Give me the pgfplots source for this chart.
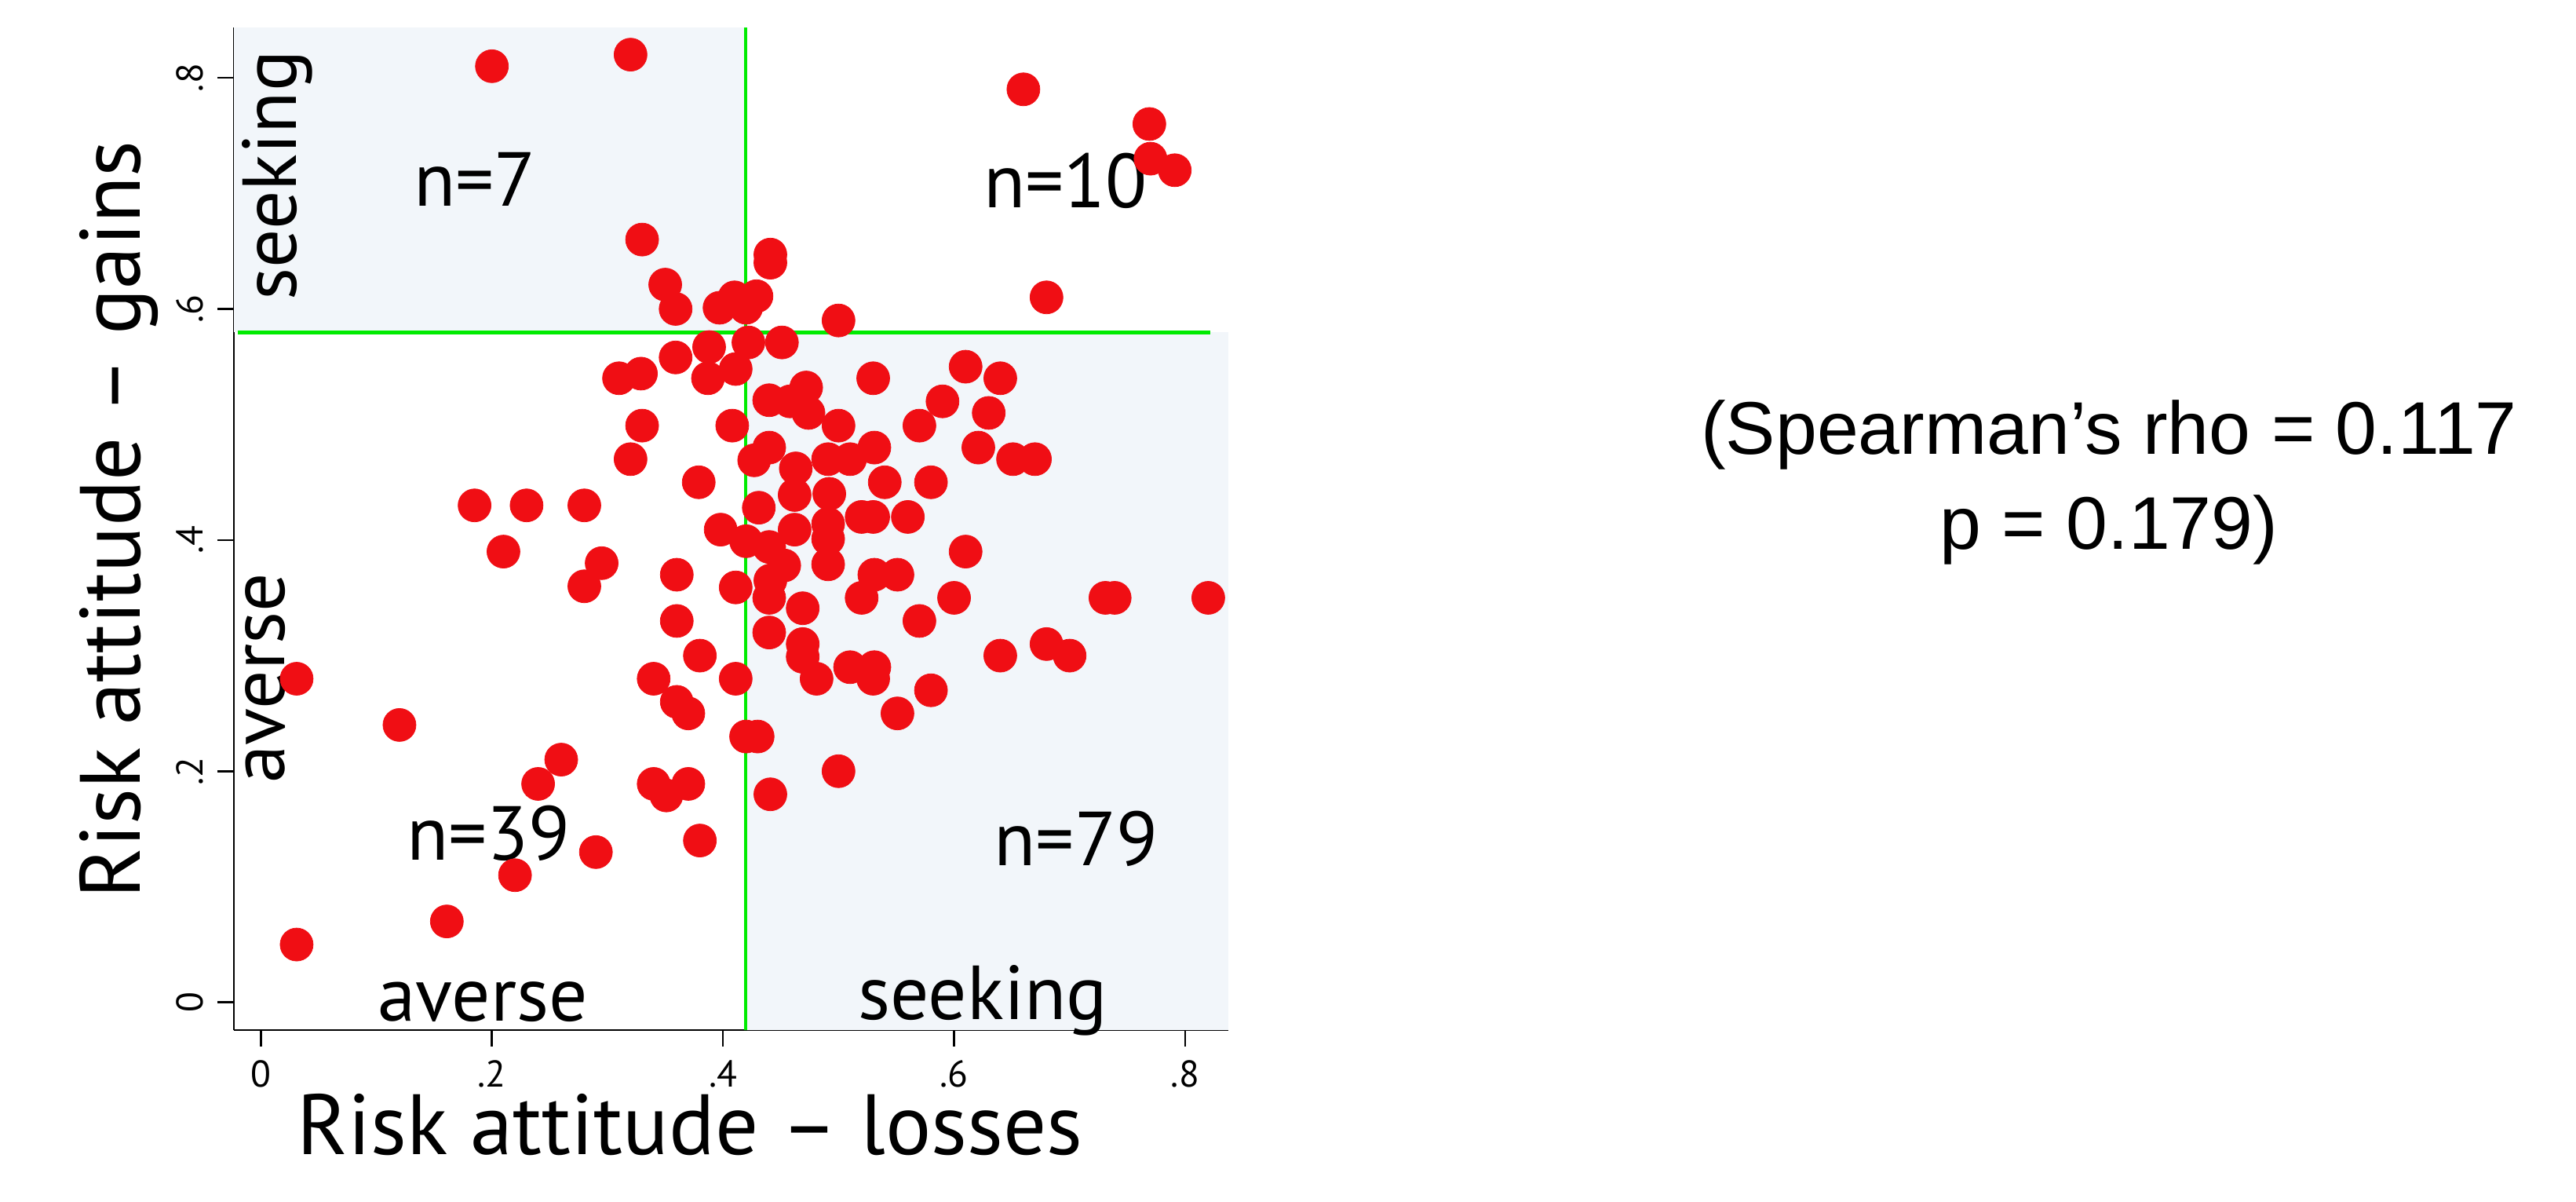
\documentclass[border=0pt]{standalone}
\usepackage{pgfplots}
\pgfplotsset{compat=1.18}
\usepackage{fontspec}
\setmainfont{PT Sans}
\newfontfamily\arialfont{Liberation Sans}
\definecolor{dotred}{RGB}{240,14,20}
\definecolor{shade}{RGB}{242,246,250}
\definecolor{lgreen}{RGB}{0,235,0}
\begin{document}
\begin{tikzpicture}
\path[use as bounding box] (0,0) rectangle (656.4pt,306pt);
\begin{axis}[
  at={(59.6pt,43.6pt)}, anchor=south west,
  scale only axis, width=253.4pt, height=255.4pt,
  xmin=-0.0233, xmax=0.8374, ymin=-0.0240, ymax=0.8435,
  axis x line*=bottom, axis y line*=left,
  axis line style={-, line width=0.5pt, black},
  tick align=outside, major tick length=4.2pt,
  tick style={line width=0.5pt, black},
  xtick={0,0.2,0.4,0.6,0.8}, xticklabels={0,.2,.4,.6,.8},
  ytick={0,0.2,0.4,0.6,0.8}, yticklabels={0,.2,.4,.6,.8},
  ticklabel style={font=\fontsize{9.5}{11}\selectfont},
  yticklabel style={rotate=90, anchor=south},
  xlabel={Risk attitude – losses},
  ylabel={Risk attitude – gains},
  label style={font=\fontsize{21.8}{26}\selectfont},
  xlabel style={at={(axis description cs:0.4586,-0.1245)}, anchor=base},
  ylabel style={at={(axis description cs:-0.0947,0.509)}, anchor=base, rotate=0},
  clip=false,
]
\addplot[fill=shade, draw=none, forget plot] coordinates {(-0.0233,0.5797) (0.4196,0.5797) (0.4196,0.8435) (-0.0233,0.8435)} -- cycle;
\addplot[fill=shade, draw=none, forget plot] coordinates {(0.4196,-0.0240) (0.8374,-0.0240) (0.8374,0.5797) (0.4196,0.5797)} -- cycle;
\addplot[only marks, mark=*, color=dotred, mark size=4.2pt, mark options={draw=dotred, fill=dotred, line width=0.15pt}] table {
x y
0.200 0.810
0.320 0.820
0.330 0.660
0.350 0.621
0.359 0.600
0.397 0.601
0.410 0.610
0.429 0.611
0.420 0.601
0.441 0.647
0.441 0.640
0.500 0.590
0.660 0.790
0.769 0.760
0.770 0.730
0.791 0.720
0.680 0.610
0.451 0.571
0.422 0.571
0.388 0.567
0.359 0.558
0.310 0.540
0.329 0.544
0.387 0.540
0.411 0.548
0.530 0.540
0.440 0.521
0.458 0.520
0.472 0.532
0.474 0.510
0.500 0.499
0.408 0.499
0.330 0.499
0.320 0.470
0.440 0.480
0.427 0.469
0.463 0.462
0.491 0.470
0.510 0.470
0.531 0.480
0.379 0.450
0.540 0.450
0.185 0.430
0.230 0.430
0.280 0.430
0.210 0.390
0.280 0.360
0.031 0.280
0.431 0.428
0.462 0.439
0.492 0.440
0.520 0.420
0.530 0.420
0.560 0.420
0.398 0.409
0.420 0.399
0.462 0.409
0.491 0.414
0.491 0.401
0.440 0.394
0.453 0.378
0.491 0.379
0.531 0.370
0.551 0.370
0.520 0.350
0.295 0.380
0.360 0.370
0.411 0.359
0.440 0.350
0.441 0.365
0.469 0.341
0.360 0.330
0.440 0.320
0.469 0.310
0.469 0.299
0.481 0.280
0.510 0.290
0.531 0.290
0.530 0.280
0.380 0.300
0.340 0.280
0.360 0.260
0.370 0.250
0.411 0.280
0.610 0.550
0.640 0.540
0.590 0.520
0.630 0.510
0.570 0.499
0.621 0.480
0.651 0.470
0.670 0.470
0.580 0.450
0.610 0.390
0.600 0.350
0.731 0.350
0.739 0.350
0.820 0.350
0.570 0.330
0.640 0.300
0.680 0.310
0.700 0.300
0.580 0.270
0.551 0.250
0.120 0.240
0.260 0.210
0.240 0.189
0.290 0.130
0.220 0.110
0.161 0.070
0.031 0.050
0.420 0.230
0.430 0.230
0.500 0.200
0.340 0.189
0.351 0.179
0.370 0.189
0.441 0.180
0.380 0.140
};
\addplot[lgreen, line width=0.9pt, forget plot] coordinates {(-0.020,0.5797) (0.8216,0.5797)};
\addplot[lgreen, line width=0.9pt, forget plot] coordinates {(0.4196,-0.0240) (0.4196,0.8435)};
\node[font=\fontsize{19.5}{23}\selectfont, anchor=base, rotate=90] at (axis cs:0.0306,0.7155) {seeking};
\node[font=\fontsize{19.5}{23}\selectfont, anchor=base, rotate=90] at (axis cs:0.0207,0.2804) {averse};
\node[font=\fontsize{19.5}{23}\selectfont, anchor=base] at (axis cs:0.192,-0.0163) {averse};
\node[font=\fontsize{19.5}{23}\selectfont, anchor=base] at (axis cs:0.6248,-0.0147) {seeking};
\node[font=\fontsize{19.5}{23}\selectfont, anchor=base] at (axis cs:0.1853,0.689) {n=7};
\node[font=\fontsize{19.5}{23}\selectfont, anchor=base] at (axis cs:0.6965,0.6873) {n=10};
\node[font=\fontsize{19.5}{23}\selectfont, anchor=base] at (axis cs:0.1971,0.1234) {n=39};
\node[font=\fontsize{19.5}{23}\selectfont, anchor=base] at (axis cs:0.7055,0.118) {n=79};
\end{axis}
\node[font=\arialfont\fontsize{19}{23}\selectfont, anchor=base] at (537.4pt,190.4pt) {(Spearman’s rho = 0.117};
\node[font=\arialfont\fontsize{19}{23}\selectfont, anchor=base] at (537.4pt,166.2pt) {p = 0.179)};
\end{tikzpicture}
\end{document}
